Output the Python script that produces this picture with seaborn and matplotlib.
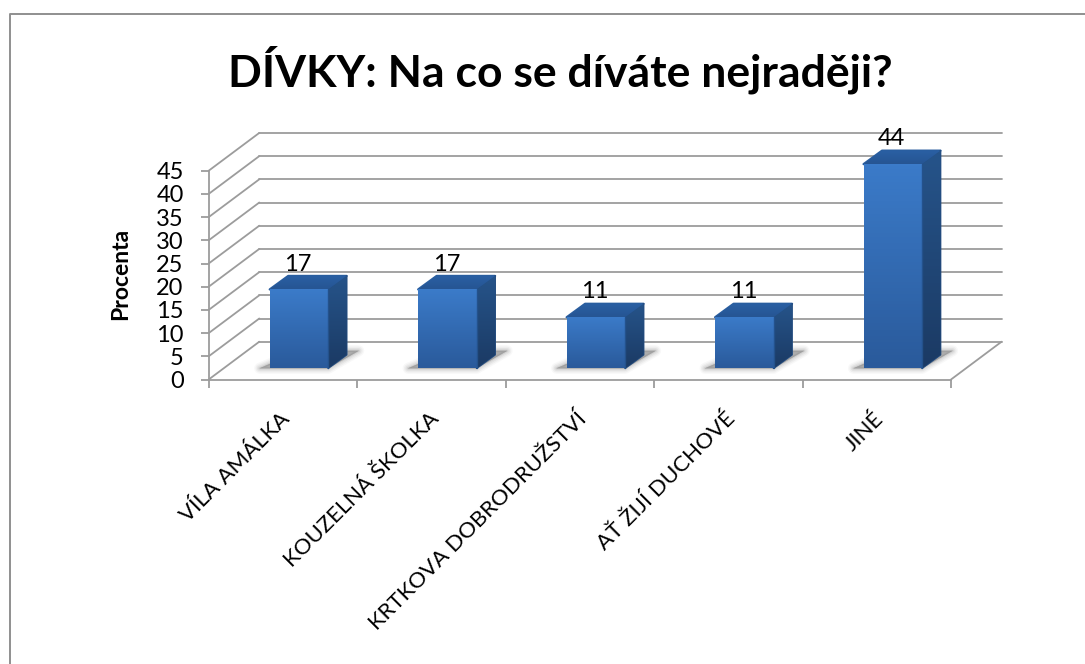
import matplotlib
matplotlib.use("Agg")
import numpy as np
import pandas as pd
import matplotlib.pyplot as plt
import seaborn as sns
from matplotlib.colors import LinearSegmentedColormap
from matplotlib.lines import Line2D
from matplotlib.patches import Polygon
from matplotlib.transforms import IdentityTransform, ScaledTranslation

categories = ["VÍLA AMÁLKA", "KOUZELNÁ ŠKOLKA", "KRTKOVA DOBRODRUŽSTVÍ", "AŤ ŽIJÍ DUCHOVÉ", "JINÉ"]
values = [17, 17, 11, 11, 44]
y_ticks = [0, 5, 10, 15, 20, 25, 30, 35, 40, 45]

W, H = 1085, 664
DPI = 100
GRID = "#9c9c9c"

sns.set_theme(style="white")
plt.rcParams["font.family"] = ["Lato", "DejaVu Sans"]

df = pd.DataFrame({"porad": categories, "procenta": values})

fig = plt.figure(figsize=(W / DPI, H / DPI), dpi=DPI, facecolor="white")
# ramecek ma jen horni a levou stranu
fig.add_artist(Line2D([9.5 / W, 9.5 / W, 1], [0, 1 - 13.5 / H, 1 - 13.5 / H], transform=fig.transFigure,
                      color="#8f8f8f", lw=1.4))

# predni rovina grafu v pixelech
ax = fig.add_axes([208.7 / W, 1 - 379.5 / H, (951 - 208.7) / W, (379.5 - 170.7) / H])
ax.patch.set_alpha(0)
sns.barplot(data=df, x="porad", y="procenta", ax=ax, color="#3270b8", width=0.394, saturation=1)
ax.set_xlim(-0.5, 4.5)
ax.set_ylim(0, 45)
ax.autoscale(False)
sns.despine(ax=ax, top=True, right=True)


def shift(dx, dy):
    return ax.transData + ScaledTranslation(dx / DPI, dy / DPI, fig.dpi_scale_trans)


back = shift(50.6, 37.8)
bar_tr = shift(16, 11.2)
DEPTH_X, DEPTH_Y = 18.5, 13.5

# mrizka na zadni stene a na bocni stene
for t in y_ticks:
    ax.plot([-0.5, 4.5], [t, t], transform=back, color=GRID, lw=1.3, clip_on=False, zorder=0.5)
    p0 = ax.transData.transform((-0.5, t))
    p1 = back.transform((-0.5, t))
    ax.plot([p0[0], p1[0]], [p0[1], p1[1]], transform=IdentityTransform(), color=GRID, lw=1.3,
            clip_on=False, zorder=0.5)
p0 = ax.transData.transform((4.5, 0))
p1 = back.transform((4.5, 0))
ax.plot([p0[0], p1[0]], [p0[1], p1[1]], transform=IdentityTransform(), color=GRID, lw=1.3,
        clip_on=False, zorder=0.5)


def face(points, top_color, bottom_color, z):
    points = np.asarray(points)
    poly = Polygon(points, closed=True, transform=IdentityTransform(), facecolor="none",
                   edgecolor="none", zorder=z)
    ax.add_patch(poly)
    cmap = LinearSegmentedColormap.from_list("f", [top_color, bottom_color])
    grad = np.linspace(0, 1, 64).reshape(-1, 1)
    img = ax.imshow(grad, cmap=cmap, aspect="auto", origin="upper", transform=IdentityTransform(),
                    extent=(points[:, 0].min(), points[:, 0].max(), points[:, 1].min(), points[:, 1].max()),
                    zorder=z)
    img.set_clip_box(fig.bbox)
    img.set_clip_path(poly)


for bar in list(ax.patches):
    x0, x1 = bar.get_x(), bar.get_x() + bar.get_width()
    top = bar.get_height()
    bar.set_visible(False)
    bl = bar_tr.transform((x0, 0))
    br = bar_tr.transform((x1, 0))
    tl = bar_tr.transform((x0, top))
    tr = bar_tr.transform((x1, top))
    d = np.array([DEPTH_X, DEPTH_Y])

    # stin na podlaze, rozmazany po vrstvach
    shadow = np.array([bl + [-10, 0], br + [0, 0], br + d + [12, 4], bl + d + [12, 4]])
    for lw, a in zip([8, 6, 4, 2, 0.5], [0.04, 0.06, 0.08, 0.11, 0.16]):
        ax.add_patch(Polygon(shadow, closed=True, transform=IdentityTransform(), facecolor="#5a5a5a",
                             edgecolor="#5a5a5a", alpha=a, lw=lw, joinstyle="round", clip_on=False, zorder=1))

    # zaoblene hrany kvadru
    ax.add_patch(Polygon([tl, tr, tr + d, tl + d], closed=True, transform=IdentityTransform(), facecolor="#2a5e9f",
                         edgecolor="#2a5e9f", lw=1.6, joinstyle="round", clip_on=False, zorder=1.9))
    ax.add_patch(Polygon([br, br + d, tr + d, tr], closed=True, transform=IdentityTransform(), facecolor="#234c80",
                         edgecolor="#234c80", lw=1.2, joinstyle="round", clip_on=False, zorder=1.9))
    face([br, br + d, tr + d, tr], "#26548a", "#1b3a64", 2)
    face([tl, tr, tr + d, tl + d], "#2a60a4", "#265593", 2)
    face([bl, br, tr, tl], "#3b7bc9", "#2a5a9b", 3)
    ax.plot([tr[0], tr[0]], [br[1], tr[1]], transform=IdentityTransform(), color="#24528c", lw=1.0,
            clip_on=False, zorder=3.6)

for i, v in enumerate(values):
    ax.annotate(str(v), xy=(i, v), xytext=(15 * 0.72, 30 * 0.72), textcoords="offset points",
                ha="center", va="baseline", fontsize=17, color="black", zorder=5)

for side in ["left", "bottom"]:
    ax.spines[side].set_color(GRID)
    ax.spines[side].set_linewidth(1.3)
ax.set_yticks(y_ticks)
ax.set_yticklabels([str(t) for t in y_ticks], fontsize=17, color="black")
ax.set_xticks(range(len(categories)))
ax.set_xticklabels(categories, fontsize=16, color="black", rotation=45, ha="right",
                   va="top", rotation_mode="anchor")
ax.set_xticks(np.arange(-0.5, 5), minor=True)
ax.tick_params(axis="x", which="major", length=0, pad=21)
ax.tick_params(axis="x", which="minor", length=6, width=1.3, color=GRID, bottom=True)
ax.tick_params(axis="y", length=6, width=1.3, color=GRID, left=True, pad=12)
for lab in ax.get_xticklabels():
    lab.set_transform(lab.get_transform() + ScaledTranslation(-3 / DPI, 0, fig.dpi_scale_trans))
ax.grid(False)
ax.set_xlabel("")
ax.set_ylabel("")

fig.text(121 / W, 1 - 274 / H, "Procenta", rotation=90, ha="center", va="center",
         fontsize=16.5, fontweight="bold", color="black")
fig.text(560 / W, 1 - 70 / H, "DÍVKY: Na co se díváte nejraději?", ha="center", va="center",
         fontsize=32, fontweight="bold", color="black")

fig.savefig("out.png", dpi=DPI)
